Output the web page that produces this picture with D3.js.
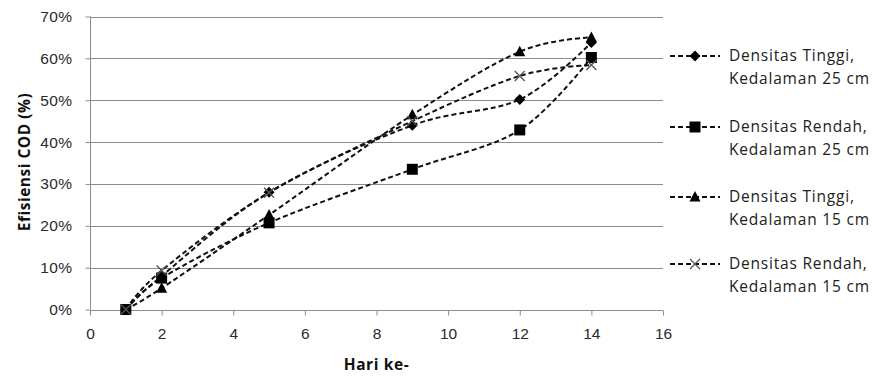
<!DOCTYPE html>
<html>
<head>
<meta charset="utf-8">
<script src="https://cdn.jsdelivr.net/npm/d3@7"></script>
<style>
  html, body { margin: 0; padding: 0; background: #fff; }
  svg { display: block; font-family: "Open Sans", Lato, sans-serif; }
</style>
</head>
<body>
<svg id="chart" width="872" height="376"></svg>
<script>
// Hari pengamatan
const days = [1, 2, 5, 9, 12, 14];

// Efisiensi COD (fraksi) per perlakuan
const tinggi25 = [0, 0.08, 0.28, 0.44, 0.502, 0.638];
const rendah25 = [0, 0.075, 0.207, 0.335, 0.429, 0.602];
const tinggi15 = [0, 0.051, 0.226, 0.465, 0.616, 0.65];
const rendah15 = [0, 0.093, 0.279, 0.45, 0.558, 0.584];

const seriesNames = [
  ["Densitas Tinggi,", "Kedalaman 25 cm"],
  ["Densitas Rendah,", "Kedalaman 25 cm"],
  ["Densitas Tinggi,", "Kedalaman 15 cm"],
  ["Densitas Rendah,", "Kedalaman 15 cm"]
];
const seriesValues = [tinggi25, rendah25, tinggi15, rendah15];
const seriesMarkers = ["diamond", "square", "triangle", "cross"];

const xTicks = [0, 2, 4, 6, 8, 10, 12, 14, 16];
const yTicks = [0, 0.1, 0.2, 0.3, 0.4, 0.5, 0.6, 0.7];

const svg = d3.select("#chart");
const x = d3.scaleLinear().domain([0, 16]).range([90, 663]);
const y = d3.scaleLinear().domain([0, 0.7]).range([309.5, 16.5]);

const gridColor = "#8c8c8c";
const textColor = "#2a2a2a";
const fontSize = "15.5px";

// horizontal gridlines
svg.append("g")
  .selectAll("line")
  .data(yTicks.slice(1))
  .join("line")
  .attr("x1", x(0)).attr("x2", x(16))
  .attr("y1", d => Math.round(y(d)) + 0.5).attr("y2", d => Math.round(y(d)) + 0.5)
  .attr("stroke", gridColor).attr("stroke-width", 1);

// y axis
const yAxis = svg.append("g")
  .attr("transform", `translate(${x(0) + 0.5},0)`)
  .call(d3.axisLeft(y).tickValues(yTicks).tickFormat(d3.format(".0%")).tickSize(5).tickPadding(13));
yAxis.select(".domain").attr("stroke", gridColor).attr("d", `M0,${y(0.7)}V${y(0)}`);
yAxis.selectAll(".tick line").attr("stroke", gridColor);
yAxis.selectAll(".tick text").attr("fill", textColor)
  .style("font-size", fontSize).style("letter-spacing", "0.4px");

// x axis
const xAxis = svg.append("g")
  .attr("transform", `translate(0,${Math.round(y(0)) + 0.5})`)
  .call(d3.axisBottom(x).tickValues(xTicks).tickFormat(d3.format("d")).tickSize(5).tickPadding(12));
xAxis.select(".domain").attr("stroke", gridColor).attr("d", `M${x(0)},0H${x(16)}`);
xAxis.selectAll(".tick line").attr("stroke", gridColor);
xAxis.selectAll(".tick text").attr("fill", textColor).style("font-size", fontSize);

// axis titles
svg.append("text")
  .attr("x", x(8)).attr("y", 370)
  .attr("text-anchor", "middle")
  .style("font-size", fontSize).style("font-weight", "bold").style("letter-spacing", "0.6px")
  .attr("fill", "#111")
  .text("Hari ke-");

svg.append("text")
  .attr("transform", `translate(30,162) rotate(-90)`)
  .attr("text-anchor", "middle")
  .style("font-size", fontSize).style("font-weight", "bold").style("letter-spacing", "0.5px")
  .attr("fill", "#111")
  .text("Efisiensi COD (%)");

// marker drawing
function drawMarker(g, type, cx, cy) {
  if (type === "diamond") {
    g.append("path").attr("d", `M${cx},${cy - 5.5}L${cx + 5.5},${cy}L${cx},${cy + 5.5}L${cx - 5.5},${cy}Z`).attr("fill", "#000");
  } else if (type === "square") {
    g.append("rect").attr("x", cx - 5.5).attr("y", cy - 5.5).attr("width", 11).attr("height", 11).attr("fill", "#000");
  } else if (type === "triangle") {
    g.append("path").attr("d", `M${cx},${cy - 6}L${cx + 5.5},${cy + 4.5}L${cx - 5.5},${cy + 4.5}Z`).attr("fill", "#000");
  } else {
    g.append("path").attr("d", `M${cx - 5},${cy - 5}L${cx + 5},${cy + 5}M${cx - 5},${cy + 5}L${cx + 5},${cy - 5}`)
      .attr("stroke", "#555").attr("stroke-width", 1.3).attr("fill", "none");
  }
}

const line = d3.line()
  .x((d, i) => x(days[i]))
  .y(d => y(d))
  .curve(d3.curveCardinal.tension(0));

const plot = svg.append("g");
seriesValues.forEach((vals, k) => {
  plot.append("path")
    .datum(vals)
    .attr("d", line)
    .attr("fill", "none")
    .attr("stroke", "#111")
    .attr("stroke-width", 2)
    .attr("stroke-dasharray", "5,3");
});
seriesValues.forEach((vals, k) => {
  const g = plot.append("g");
  vals.forEach((v, i) => drawMarker(g, seriesMarkers[k], x(days[i]), y(v)));
});

// legend
const legendTop = [56, 127, 197, 264];
const legend = svg.append("g");
seriesNames.forEach((name, k) => {
  const ly = legendTop[k];
  legend.append("line")
    .attr("x1", 670).attr("x2", 720).attr("y1", ly).attr("y2", ly)
    .attr("stroke", "#111").attr("stroke-width", 2).attr("stroke-dasharray", "5,3");
  drawMarker(legend, seriesMarkers[k], 695, ly);
  const t = legend.append("text")
    .attr("x", 729).attr("y", ly + 5)
    .style("font-size", fontSize).style("letter-spacing", "0.8px").attr("fill", "#222");
  t.append("tspan").attr("x", 729).attr("dy", 0).text(name[0]);
  t.append("tspan").attr("x", 729).attr("dy", 23).text(name[1]);
});
</script>
</body>
</html>
